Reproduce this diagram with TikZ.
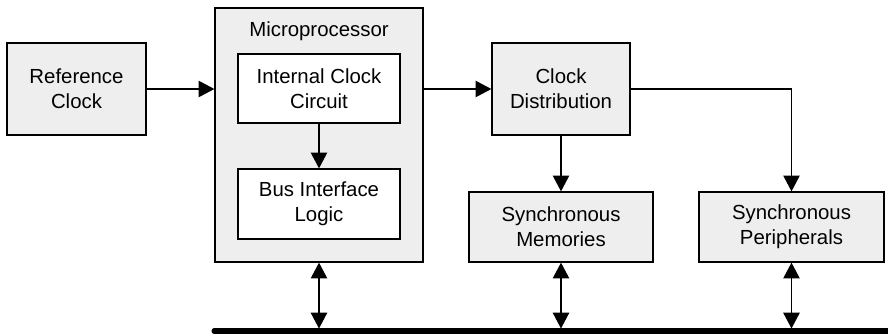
\documentclass[tikz,border=0pt]{standalone}
\usepackage{fontspec}
\setmainfont{Liberation Sans}
\usepackage{tikz}
\usetikzlibrary{arrows.meta,positioning,calc}
\definecolor{boxgray}{RGB}{238,238,238}

\begin{document}
\begin{tikzpicture}[x=0.03cm,y=-0.03cm,
    blk/.style={draw, line width=1.1pt, fill=boxgray, align=center, inner sep=0pt,
      font=\fontsize{17.4}{21.5}\selectfont},
    inblk/.style={blk, fill=white},
    arr/.style={line width=1.1pt, -{Triangle[length=13.5pt,width=14pt]}},
    darr/.style={line width=1.1pt, {Triangle[length=13.5pt,width=14pt]}-{Triangle[length=13.5pt,width=14pt]}}]
    \useasboundingbox (0,0) rectangle (888,335);
    % Clock source and processor
    \node[blk, minimum width=139*0.03cm, minimum height=92*0.03cm] (refclk) at (76.5,89) {Reference\\Clock};
    \node[blk, minimum width=208*0.03cm, minimum height=254*0.03cm] (micro) at (319,135) {};
    \node[font=\fontsize{17.4}{21.5}\selectfont, below=9pt of micro.north] (microlbl) {Microprocessor};
    \node[inblk, minimum width=162*0.03cm, minimum height=69*0.03cm] (icc) at (319,88.5) {Internal Clock\\Circuit};
    \node[inblk, minimum width=162*0.03cm, minimum height=70*0.03cm] (bil) at (319,204) {Bus Interface\\Logic};
    % Distribution and clocked devices
    \node[blk, minimum width=138*0.03cm, minimum height=92*0.03cm] (cdist) at (561,89) {Clock\\Distribution};
    \node[blk, minimum width=184*0.03cm, minimum height=70*0.03cm] (smem) at (561,227) {Synchronous\\Memories};
    \node[blk, minimum width=185*0.03cm, minimum height=70*0.03cm] (sper) at (791.5,227) {Synchronous\\Peripherals};
    % Bus
    \coordinate (busL) at (214,331);
    \coordinate (busR) at (888,331);
    \coordinate (bustop) at (0,328.5);
    \draw[line width=4.3pt, line cap=round] (busL) -- (busR);
    % Clock paths
    \draw[arr] (refclk.east) -- (micro.west |- refclk.east);
    \draw[arr] (icc.south) -- (bil.north);
    \draw[arr] (micro.east |- cdist.west) -- (cdist.west);
    \draw[arr] (cdist.south) -- (smem.north);
    \draw[arr] (cdist.east) -| (sper.north);
    % Bus connections
    \draw[darr] (micro.south) -- (micro.south |- bustop);
    \draw[darr] (smem.south) -- (smem.south |- bustop);
    \draw[darr] (sper.south) -- (sper.south |- bustop);
\end{tikzpicture}
\end{document}
